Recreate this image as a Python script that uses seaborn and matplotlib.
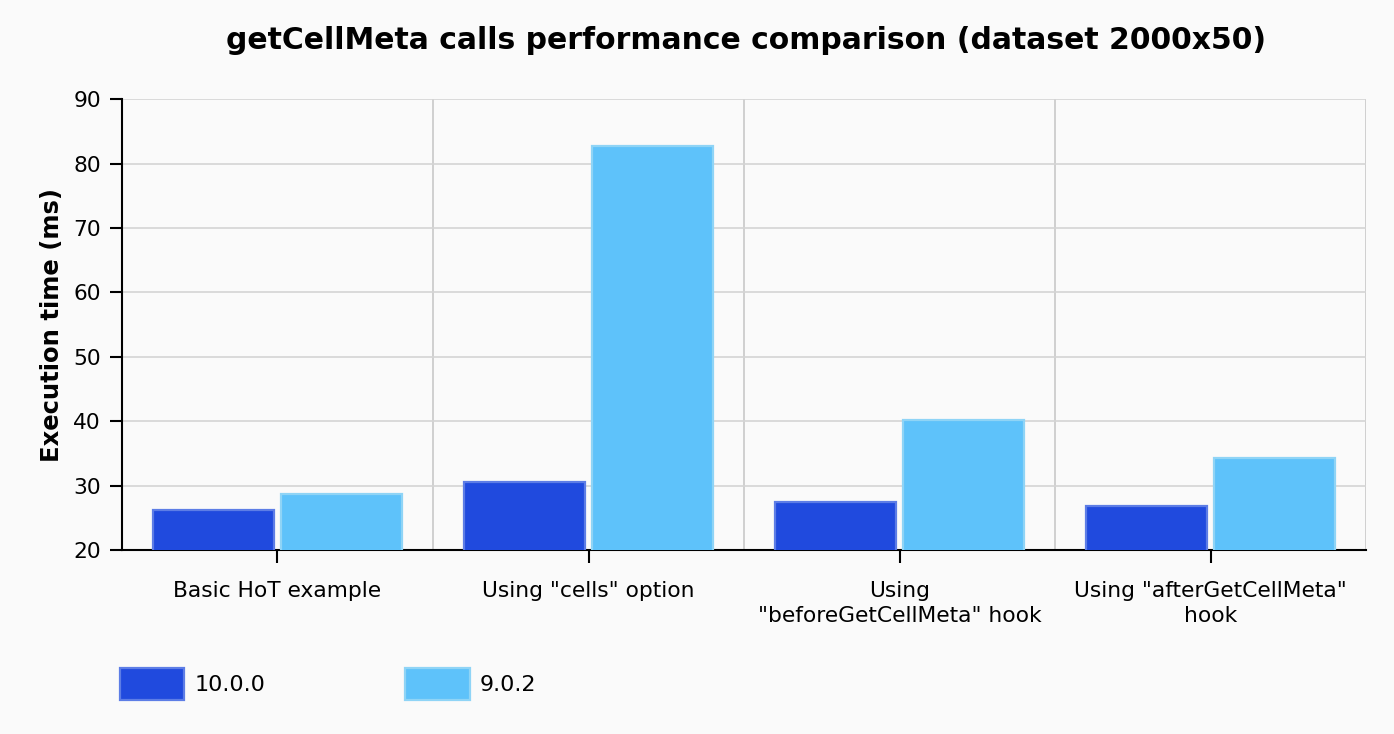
import pandas as pd
import seaborn as sns
import matplotlib.pyplot as plt
from matplotlib.patches import Patch

# Benchmark data
categories = ['Basic HoT example', 'Using "cells" option',
              'Using\n"beforeGetCellMeta" hook', 'Using "afterGetCellMeta"\nhook']
versions = ['10.0.0', '9.0.2']
times_10 = [26.2, 30.55, 27.45, 26.8]
times_9 = [28.7, 82.7, 40.2, 34.3]
y_ticks = [20, 30, 40, 50, 60, 70, 80, 90]

df = pd.DataFrame({
    'category': categories * 2,
    'version': [versions[0]] * 4 + [versions[1]] * 4,
    'time': times_10 + times_9,
})

sns.set_style('white')
plt.rcParams['font.family'] = ['DejaVu Sans']
plt.rcParams['text.color'] = 'black'
plt.rcParams['axes.labelcolor'] = 'black'
plt.rcParams['xtick.color'] = 'black'
plt.rcParams['ytick.color'] = 'black'
bg = '#fafafa'

fig = plt.figure(figsize=(13.94, 7.34), dpi=100, facecolor=bg)
ax = fig.add_axes([0.0875, 0.2507, 0.8925, 0.6143])
ax.set_facecolor(bg)

palette = {'10.0.0': '#204ade', '9.0.2': '#5ec2fa'}
edge_cols = {'10.0.0': '#5d7de6', '9.0.2': '#8fd4f6'}
sns.barplot(data=df, x='category', y='time', hue='version', palette=palette,
            width=0.82, gap=0.05, ax=ax, saturation=1, legend=False, zorder=3)

edges = [edge_cols['10.0.0']] * 4 + [edge_cols['9.0.2']] * 4
for patch, ec in zip(ax.patches, edges):
    patch.set_edgecolor(ec)
    patch.set_linewidth(1.6)

ax.set_ylim(20, 90)
ax.set_xlim(-0.5, 3.5)
ax.set_yticks(y_ticks)
ax.yaxis.grid(True, color='#d4d4d4', linewidth=1.2, zorder=0)
for xb in [0.5, 1.5, 2.5, 3.5]:
    ax.axvline(xb, color='#c8c8c8', linewidth=1.2, zorder=0)

for s in ['top', 'right']:
    ax.spines[s].set_visible(False)
for s in ['left', 'bottom']:
    ax.spines[s].set_color('black')
    ax.spines[s].set_linewidth(1.5)

ax.tick_params(axis='both', bottom=True, left=True, direction='out', length=9,
               width=1.5, color='black', labelsize=15.7, pad=6)
ax.tick_params(axis='x', pad=13)
for lbl in ax.get_xticklabels():
    lbl.set_linespacing(1.35)
ax.set_xlabel('')
ax.set_ylabel('Execution time (ms)', fontsize=17.5, fontweight='bold', labelpad=7)
fig.suptitle('getCellMeta calls performance comparison (dataset 2000x50)',
             fontsize=21.5, fontweight='bold', x=0.535, y=0.964)

handles = [Patch(facecolor=palette[v], edgecolor=edge_cols[v], linewidth=1.6)
           for v in versions]
fig.legend(handles, versions, loc='upper left', bbox_to_anchor=(0.086, 0.09),
           ncol=2, frameon=False, fontsize=16, handlelength=2.9, handleheight=1.85,
           columnspacing=6.3, handletextpad=0.45, borderpad=0, borderaxespad=0)

plt.savefig('out.png', dpi=100, facecolor=bg)
